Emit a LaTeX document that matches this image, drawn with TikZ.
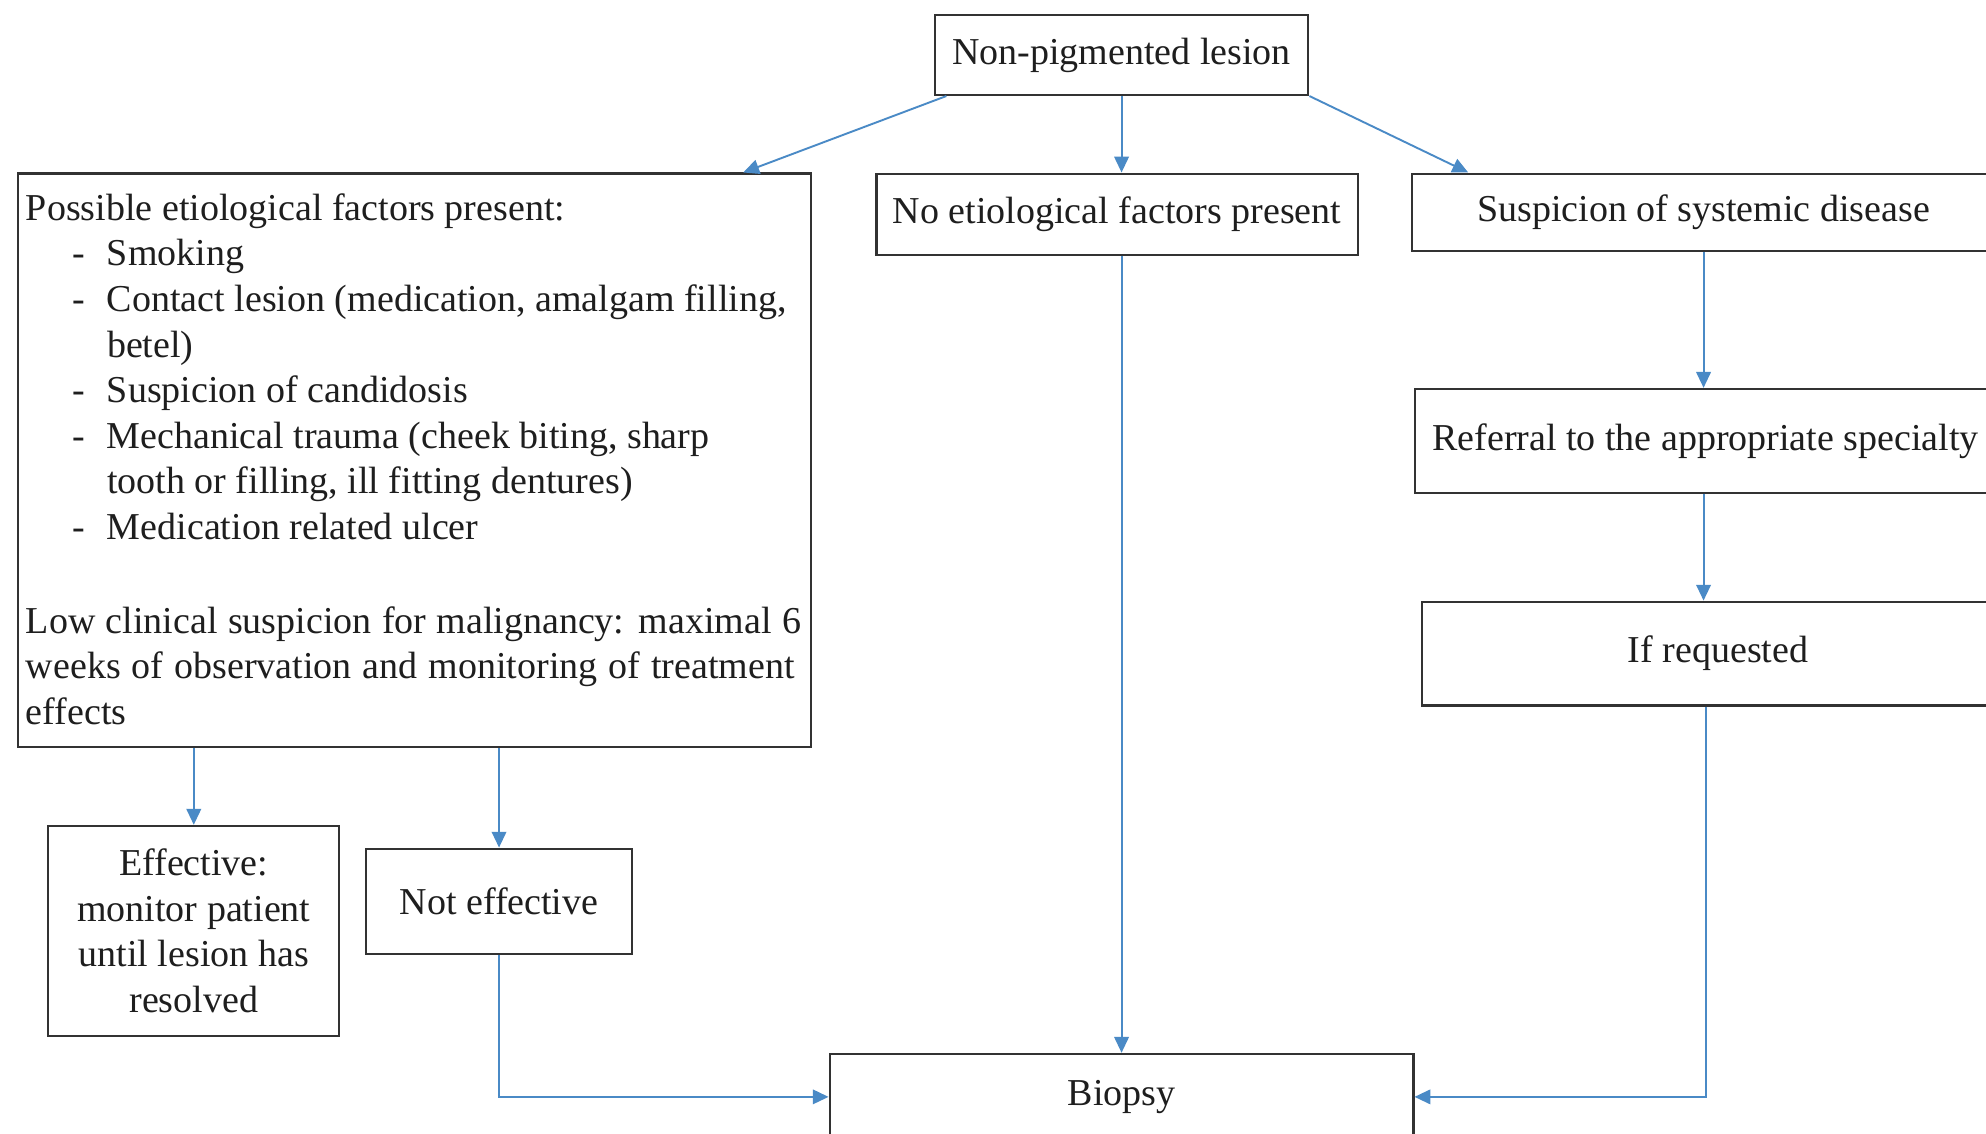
\documentclass[tikz,border=0pt]{standalone}
\usepackage{fontspec}
\setmainfont{Liberation Serif}
\usetikzlibrary{arrows.meta}
\definecolor{arrowblue}{RGB}{74,138,198}
\definecolor{boxline}{RGB}{50,50,50}
\definecolor{inktext}{RGB}{30,30,30}
\newcommand{\itm}[1]{\makebox[10.8pt][l]{-}#1}
\begin{document}
\begin{tikzpicture}[x=0.4pt,y=-0.4pt,
  every node/.style={font=\fontsize{12pt}{14.4pt}\selectfont, text=inktext},
  box/.style={draw=boxline, line width=0.65pt, inner sep=0pt, align=center},
  txt/.style={inner sep=0pt, anchor=base west},
  arr/.style={draw=arrowblue, line width=0.6pt, -{Triangle[length=5pt,width=4.6pt]}}]
\useasboundingbox (0,0) rectangle (1568,895);
\clip (0,0) rectangle (1568,895);
\fill[white] (0,0) rectangle (1568,895);

% boxes
\node[box, minimum width=118pt, minimum height=25.2pt] (top) at (885.5,43.5) {Non-pigmented lesion};
\node[box, minimum width=152pt, minimum height=25.6pt] (mid) at (882,169) {No etiological factors present};
\node[box, minimum width=184pt, minimum height=24.4pt] (susp) at (1345,167.5) {Suspicion of systemic disease};
\node[box, anchor=west, inner xsep=5.6pt, minimum height=32.8pt] (ref) at (1116,348) {\makebox[180pt][l]{Referral to the appropriate specialty}};
\node[box, minimum width=186.8pt, minimum height=32.8pt] (ifreq) at (1356.5,516) {If requested};
\node[box, minimum width=92pt, minimum height=66.4pt] (eff) at (153,735) {Effective:\\monitor patient\\until lesion has\\resolved};
\node[box, minimum width=84pt, minimum height=33.2pt] (ne) at (394,711.5) {Not effective};
\node[box, minimum width=184.4pt, minimum height=27.2pt] (biopsy) at (885.5,866) {Biopsy};

% left box with its lines of text
\node[box, minimum width=250.4pt, minimum height=181.2pt] (factors) at (327,363.5) {};
\node[txt] (f1) at (20,174) {Possible etiological factors present:};
\node[txt] (f2) at (57,210) {\itm{Smoking}};
\node[txt] (f3) at (57,246) {\itm{Contact lesion (medication, amalgam filling,}};
\node[txt] (f4) at (84,282) {betel)};
\node[txt] (f5) at (57,318) {\itm{Suspicion of candidosis}};
\node[txt] (f6) at (57,354) {\itm{Mechanical trauma (cheek biting, sharp}};
\node[txt] (f7) at (84,390) {tooth or filling, ill fitting dentures)};
\node[txt] (f8) at (57,426) {\itm{Medication related ulcer}};
\node[txt] (f9) at (20,500) {\makebox[244.8pt][s]{Low clinical suspicion for malignancy: maximal 6}};
\node[txt] (f10) at (20,536) {\makebox[242.8pt][s]{weeks of observation and monitoring of treatment}};
\node[txt] (f11) at (20,572) {effects};

% connectors
\draw[arr] ([xshift=4pt]top.south west) -- ([xshift=-21.6pt]factors.north east);
\draw[arr] (top.south) -- (top.south |- mid.north);
\draw[arr] (top.south east) -- ([xshift=18pt]susp.north west);
\draw[arr] (susp.south) -- (susp.south |- ref.north);
\draw[arr] (susp.south |- ref.south) -- (susp.south |- ifreq.north);
\draw[arr] ([xshift=-3.8pt]ifreq.south) |- (biopsy.east);
\draw[arr] (top.south |- mid.south) -- (top.south |- biopsy.north);
\draw[arr] (factors.south -| eff.north) -- (eff.north);
\draw[arr] (factors.south -| ne.north) -- (ne.north);
\draw[arr] (ne.south) |- (biopsy.west);
\end{tikzpicture}
\end{document}
